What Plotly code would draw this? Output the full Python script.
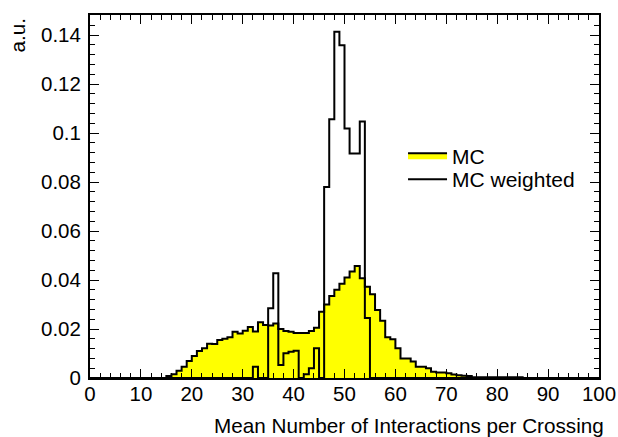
import numpy as np
import plotly.graph_objects as go

# ---- data (bin contents, 1-unit bins from 0 to 100) ----
bin_low = list(range(100))

mc_values = [0.0] * 15 + [
    0.0008, 0.0015, 0.0030, 0.0046, 0.0069,   # 15-19
    0.0090, 0.0110, 0.0121, 0.0140, 0.0139,   # 20-24
    0.0155, 0.0160, 0.0166, 0.0189, 0.0182,   # 25-29
    0.0193, 0.0208, 0.0190, 0.0228, 0.0216,   # 30-34
    0.0214, 0.0223, 0.0200, 0.0192, 0.0189,   # 35-39
    0.0184, 0.0184, 0.0184, 0.0192, 0.0205,   # 40-44
    0.0270, 0.0300, 0.0335, 0.0360, 0.0385,   # 45-49
    0.0410, 0.0435, 0.0457, 0.0407, 0.0373,   # 50-54
    0.0342, 0.0278, 0.0234, 0.0166, 0.0158,   # 55-59
    0.0121, 0.0080, 0.0080, 0.0067, 0.0046,   # 60-64
    0.0046, 0.0040, 0.0026, 0.0022, 0.0022,   # 65-69
    0.0019, 0.0014, 0.0011, 0.0009, 0.0008,   # 70-74
    0.0003, 0.0003, 0.0003, 0.0003, 0.0003,   # 75-79
    0.0003, 0.0003, 0.0003, 0.0003, 0.0003,   # 80-84
] + [0.0] * 15

mc_weighted_values = [0.0] * 32 + [
    0.0046, 0.0, 0.0, 0.0285, 0.0428,         # 32-36
    0.0053, 0.0101, 0.0107, 0.0111, 0.0,      # 37-41
    0.0015, 0.0040, 0.0121, 0.0, 0.0780,      # 42-46
    0.1056, 0.1414, 0.1359, 0.1019, 0.0917,   # 47-51
    0.0917, 0.1047, 0.0245,                   # 52-54
] + [0.0] * 45

x_tick_vals = [0, 10, 20, 30, 40, 50, 60, 70, 80, 90, 100]
x_tick_text = ["0", "10", "20", "30", "40", "50", "60", "70", "80", "90", "100"]
y_tick_vals = [0, 0.02, 0.04, 0.06, 0.08, 0.1, 0.12, 0.14]
y_tick_text = ["0", "0.02", "0.04", "0.06", "0.08", "0.1", "0.12", "0.14"]

series_names = ["MC", "MC weighted"]
x_title = "Mean Number of Interactions per Crossing"
y_title = "a.u."

# ---- build step outlines ----
edges = np.array(bin_low + [bin_low[-1] + 1], dtype=float)
mc_y = np.array(mc_values + [mc_values[-1]])
w_y = np.array(mc_weighted_values + [mc_weighted_values[-1]])

FONT = "Liberation Sans, Arial, Helvetica, sans-serif"
TICK_SIZE = 20.5
TITLE_SIZE = 20.7
LEG_SIZE = 21

fig = go.Figure()
fig.add_trace(go.Scatter(
    x=edges, y=mc_y, mode="lines", line_shape="hv",
    fill="tozeroy", fillcolor="#ffff00",
    line=dict(color="black", width=2),
    name=series_names[0], legend="legend",
))
fig.add_trace(go.Scatter(
    x=edges, y=w_y, mode="lines", line_shape="hv",
    line=dict(color="black", width=2),
    name=series_names[1], legend="legend2",
))

axis_common = dict(
    showline=True, linecolor="black", linewidth=2, mirror="allticks",
    ticks="inside", ticklen=9, tickwidth=1, tickcolor="black",
    showgrid=False, zeroline=False, automargin=False,
    tickfont=dict(family=FONT, size=TICK_SIZE, color="black"),
)

fig.update_xaxes(
    range=[0, 100], tickvals=x_tick_vals, ticktext=x_tick_text,
    minor=dict(dtick=2, ticks="inside", ticklen=5, tickcolor="black", showgrid=False),
    ticklabelstandoff=-4,
    **axis_common,
)
fig.update_yaxes(
    range=[0, 0.1482], tickvals=y_tick_vals, ticktext=y_tick_text,
    minor=dict(dtick=0.004, tick0=0, ticks="inside", ticklen=5, tickcolor="black", showgrid=False),
    ticklabelstandoff=3,
    **axis_common,
)

legend_common = dict(
    xanchor="left", yanchor="top",
    bgcolor="rgba(0,0,0,0)", borderwidth=0, itemwidth=39,
    font=dict(family=FONT, size=LEG_SIZE, color="black"),
)

fig.update_layout(
    width=618, height=437,
    margin=dict(l=90, r=19, t=15, b=59),
    paper_bgcolor="white", plot_bgcolor="white",
    font=dict(family=FONT, size=TICK_SIZE, color="black"),
    showlegend=True,
    legend=dict(x=0.615, y=0.669, **legend_common),
    legend2=dict(x=0.615, y=0.603, **legend_common),
    annotations=[
        dict(text=x_title, xref="paper", yref="paper", x=1.0138, y=-0.1295,
             xanchor="right", yanchor="middle", showarrow=False,
             font=dict(family=FONT, size=TITLE_SIZE, color="black")),
        dict(text=y_title, xref="paper", yref="paper", x=-0.1415, y=1.0,
             xanchor="center", yanchor="top", textangle=-90, showarrow=False,
             font=dict(family=FONT, size=TITLE_SIZE, color="black")),
    ],
)

fig.write_html("out.html")
